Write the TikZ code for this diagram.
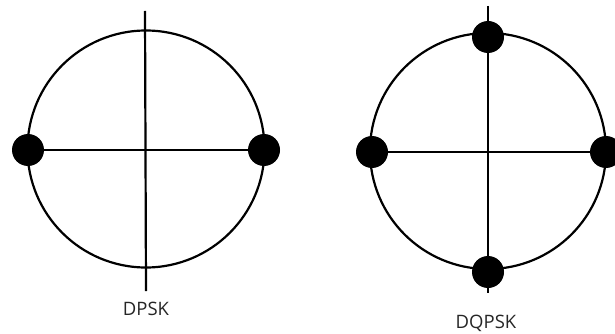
\documentclass[tikz,border=0pt]{standalone}
\usepackage{fontspec}
\setmainfont{Open Sans}
\begin{document}
\begin{tikzpicture}[x=1pt,y=-1pt,
  ring/.style={line width=2.2pt},
  axis/.style={line width=2.2pt},
  pt/.style={circle,fill=black,minimum size=32pt,inner sep=0pt},
  lbl/.style={font=\fontsize{18.5}{20}\selectfont,text=black!85}]
\useasboundingbox (0,0) rectangle (615,334);
\clip (0,0) rectangle (615,334);
% left: DPSK
\coordinate (lc) at (146,149);
\draw[ring] (lc) circle[radius=118.5];
\coordinate (ltop) at (145,11);
\coordinate (lbot) at (146,291);
\draw[axis] (ltop) -- (lbot);
\node[pt] (l1) at (28,150) {};
\node[pt] (l2) at (264,150) {};
\draw[axis] (l1) -- (l2);
\node[lbl] (dpsk) at (146,309) {DPSK};
% right: DQPSK
\coordinate (rc) at (488,151);
\draw[ring] (rc) circle[radius=118];
\coordinate (rtop) at (488,6);
\coordinate (rbot) at (488,293);
\draw[axis] (rtop) -- (rbot);
\node[pt] (r1) at (372,152) {};
\node[pt] (r2) at (606,152) {};
\node[pt] (r3) at (488,37) {};
\node[pt] (r4) at (488,272) {};
\draw[axis] (r1) -- (r2);
\node[lbl] (dqpsk) at (486,323) {DQPSK};
\end{tikzpicture}
\end{document}
